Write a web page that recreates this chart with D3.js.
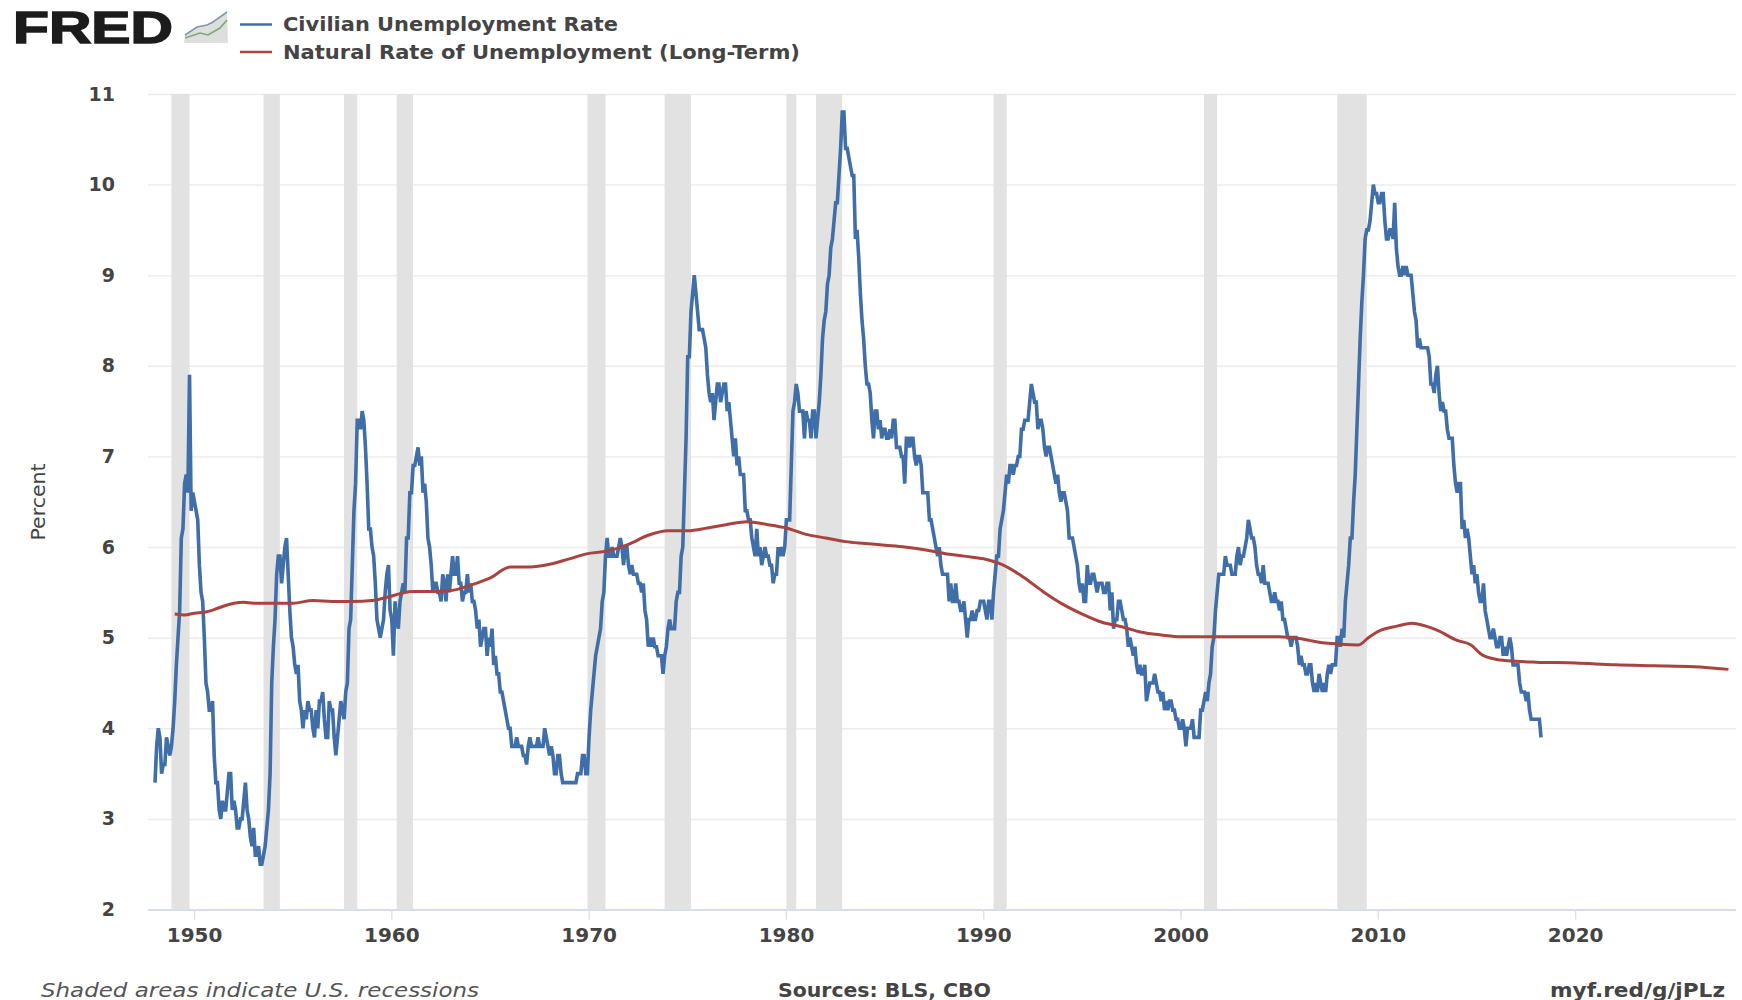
<!DOCTYPE html>
<html>
<head>
<meta charset="utf-8">
<script src="https://cdn.jsdelivr.net/npm/d3@7"></script>
<style>
  html, body { margin: 0; padding: 0; background: #fff; }
  svg { display: block; }
  text { font-family: "DejaVu Sans", sans-serif; fill: #444; }
</style>
</head>
<body>
<svg class="chart"></svg>
<script>
// monthly, one row per year starting 1948
let unrateStart = 1948;
let unrate = [
  3.4,3.8,4.0,3.9,3.5,3.6,3.6,3.9,3.8,3.7,3.8,4.0,
  4.3,4.7,5.0,5.3,6.1,6.2,6.7,6.8,6.6,7.9,6.4,6.6,
  6.5,6.4,6.3,5.8,5.5,5.4,5.0,4.5,4.4,4.2,4.2,4.3,
  3.7,3.4,3.4,3.1,3.0,3.2,3.1,3.1,3.3,3.5,3.5,3.1,
  3.2,3.1,2.9,2.9,3.0,3.0,3.2,3.4,3.1,3.0,2.8,2.7,
  2.9,2.6,2.6,2.7,2.5,2.5,2.6,2.7,2.9,3.1,3.5,4.5,
  4.9,5.2,5.7,5.9,5.9,5.6,5.8,6.0,6.1,5.7,5.3,5.0,
  4.9,4.7,4.6,4.7,4.3,4.2,4.0,4.2,4.1,4.3,4.2,4.2,
  4.0,3.9,4.2,4.0,4.3,4.3,4.4,4.1,3.9,3.9,4.3,4.2,
  4.2,3.9,3.7,3.9,4.1,4.3,4.2,4.1,4.4,4.5,5.1,5.2,
  5.8,6.4,6.7,7.4,7.4,7.3,7.5,7.4,7.1,6.7,6.2,6.2,
  6.0,5.9,5.6,5.2,5.1,5.0,5.1,5.2,5.5,5.7,5.8,5.3,
  5.2,4.8,5.4,5.2,5.1,5.4,5.5,5.6,5.5,6.1,6.1,6.6,
  6.6,6.9,6.9,7.0,7.1,6.9,7.0,6.6,6.7,6.5,6.1,6.0,
  5.8,5.5,5.6,5.6,5.5,5.5,5.4,5.7,5.6,5.4,5.7,5.5,
  5.7,5.9,5.7,5.7,5.9,5.6,5.6,5.4,5.5,5.5,5.7,5.5,
  5.6,5.4,5.4,5.3,5.1,5.2,4.9,5.0,5.1,5.1,4.8,5.0,
  4.9,5.1,4.7,4.8,4.6,4.6,4.4,4.4,4.3,4.2,4.1,4.0,
  4.0,3.8,3.8,3.8,3.9,3.8,3.8,3.8,3.7,3.7,3.6,3.8,
  3.9,3.8,3.8,3.8,3.8,3.9,3.8,3.8,3.8,4.0,3.9,3.8,
  3.7,3.8,3.7,3.5,3.5,3.7,3.7,3.5,3.4,3.4,3.4,3.4,
  3.4,3.4,3.4,3.4,3.4,3.5,3.5,3.5,3.7,3.7,3.5,3.5,
  3.9,4.2,4.4,4.6,4.8,4.9,5.0,5.1,5.4,5.5,5.9,6.1,
  5.9,5.9,6.0,5.9,5.9,5.9,6.0,6.1,6.0,5.8,6.0,6.0,
  5.8,5.7,5.8,5.7,5.7,5.7,5.6,5.6,5.5,5.6,5.3,5.2,
  4.9,5.0,4.9,5.0,4.9,4.9,4.8,4.8,4.8,4.6,4.8,4.9,
  5.1,5.2,5.1,5.1,5.1,5.4,5.5,5.5,5.9,6.0,6.6,7.2,
  8.1,8.1,8.6,8.8,9.0,8.8,8.6,8.4,8.4,8.4,8.3,8.2,
  7.9,7.7,7.6,7.7,7.4,7.6,7.8,7.8,7.6,7.7,7.8,7.8,
  7.5,7.6,7.4,7.2,7.0,7.2,6.9,7.0,6.8,6.8,6.8,6.4,
  6.4,6.3,6.3,6.1,6.0,5.9,6.2,5.9,6.0,5.8,5.9,6.0,
  5.9,5.9,5.8,5.8,5.6,5.7,5.7,6.0,5.9,6.0,5.9,6.0,
  6.3,6.3,6.3,6.9,7.5,7.6,7.8,7.7,7.5,7.5,7.5,7.2,
  7.5,7.4,7.4,7.2,7.5,7.5,7.2,7.4,7.6,7.9,8.3,8.5,
  8.6,8.9,9.0,9.3,9.4,9.6,9.8,9.8,10.1,10.4,10.8,10.8,
  10.4,10.4,10.3,10.2,10.1,10.1,9.4,9.5,9.2,8.8,8.5,8.3,
  8.0,7.8,7.8,7.7,7.4,7.2,7.5,7.5,7.3,7.4,7.2,7.3,
  7.3,7.2,7.2,7.3,7.2,7.4,7.4,7.1,7.1,7.1,7.0,7.0,
  6.7,7.2,7.2,7.1,7.2,7.2,7.0,6.9,7.0,7.0,6.9,6.6,
  6.6,6.6,6.6,6.3,6.3,6.2,6.1,6.0,5.9,6.0,5.8,5.7,
  5.7,5.7,5.7,5.4,5.6,5.4,5.4,5.6,5.4,5.4,5.3,5.3,
  5.4,5.2,5.0,5.2,5.2,5.3,5.2,5.2,5.3,5.3,5.4,5.4,
  5.4,5.3,5.2,5.4,5.4,5.2,5.5,5.7,5.9,5.9,6.2,6.3,
  6.4,6.6,6.8,6.7,6.9,6.9,6.8,6.9,6.9,7.0,7.0,7.3,
  7.3,7.4,7.4,7.4,7.6,7.8,7.7,7.6,7.6,7.3,7.4,7.4,
  7.3,7.1,7.0,7.1,7.1,7.0,6.9,6.8,6.7,6.8,6.6,6.5,
  6.6,6.6,6.5,6.4,6.1,6.1,6.1,6.0,5.9,5.8,5.6,5.5,
  5.6,5.4,5.4,5.8,5.6,5.6,5.7,5.7,5.6,5.5,5.6,5.6,
  5.6,5.5,5.5,5.6,5.6,5.3,5.5,5.1,5.2,5.2,5.4,5.4,
  5.3,5.2,5.2,5.1,4.9,5.0,4.9,4.8,4.9,4.7,4.6,4.7,
  4.6,4.6,4.7,4.3,4.4,4.5,4.5,4.5,4.6,4.5,4.4,4.4,
  4.3,4.4,4.2,4.3,4.2,4.3,4.3,4.2,4.2,4.1,4.1,4.0,
  4.0,4.1,4.0,3.8,4.0,4.0,4.0,4.1,3.9,3.9,3.9,3.9,
  4.2,4.2,4.3,4.4,4.3,4.5,4.6,4.9,5.0,5.3,5.5,5.7,
  5.7,5.7,5.7,5.9,5.8,5.8,5.8,5.7,5.7,5.7,5.9,6.0,
  5.8,5.9,5.9,6.0,6.1,6.3,6.2,6.1,6.1,6.0,5.8,5.7,
  5.7,5.6,5.8,5.6,5.6,5.6,5.5,5.4,5.4,5.5,5.4,5.4,
  5.3,5.4,5.2,5.2,5.1,5.0,5.0,4.9,5.0,5.0,5.0,4.9,
  4.7,4.8,4.7,4.7,4.6,4.6,4.7,4.7,4.5,4.4,4.5,4.4,
  4.6,4.5,4.4,4.5,4.4,4.6,4.7,4.6,4.7,4.7,4.7,5.0,
  5.0,4.9,5.1,5.0,5.4,5.6,5.8,6.1,6.1,6.5,6.8,7.3,
  7.8,8.3,8.7,9.0,9.4,9.5,9.5,9.6,9.8,10.0,9.9,9.9,
  9.8,9.8,9.9,9.9,9.6,9.4,9.4,9.5,9.5,9.4,9.8,9.3,
  9.1,9.0,9.0,9.1,9.0,9.1,9.0,9.0,9.0,8.8,8.6,8.5,
  8.2,8.3,8.2,8.2,8.2,8.2,8.2,8.1,7.8,7.8,7.7,7.9,
  8.0,7.7,7.5,7.6,7.5,7.5,7.3,7.2,7.2,7.2,6.9,6.7,
  6.6,6.7,6.7,6.2,6.3,6.1,6.2,6.1,5.9,5.7,5.8,5.6,
  5.7,5.5,5.4,5.4,5.6,5.3,5.2,5.1,5.0,5.0,5.1,5.0,
  4.9,4.9,5.0,5.0,4.8,4.9,4.8,4.9,5.0,4.9,4.7,4.7,
  4.7,4.7,4.5,4.4,4.4,4.4,4.3,4.4,4.2,4.1,4.1,4.1,
  4.1,4.1,4.1,3.9
];

// natural rate
let nrouYears = [1949,1949.5,1950,1950.5,1951,1951.5,1952,1952.5,1953,1954,1955,1956,1957,1958,1959,1960,1961,1962,1963,1964,1965,1966,1967,1968,1969,1970,1971,1972,1973,1974,1975,1976,1977,1978,1979,1980,1981,1982,1983,1984,1985,1986,1987,1988,1989,1990,1991,1992,1993,1994,1995,1996,1997,1998,1999,2000,2001,2002,2003,2004,2005,2006,2007,2008,2009,2009.5,2010,2011,2011.7,2012,2013,2014,2014.7,2015.2,2016,2017,2018,2020,2022,2024,2026,2027.75];
let nrouValues = [5.26,5.25,5.27,5.28,5.31,5.35,5.38,5.39,5.38,5.38,5.38,5.41,5.40,5.40,5.41,5.46,5.51,5.51,5.52,5.58,5.66,5.78,5.78,5.81,5.87,5.93,5.96,6.03,6.13,6.18,6.18,6.21,6.25,6.28,6.25,6.21,6.14,6.10,6.06,6.04,6.02,6.00,5.97,5.93,5.90,5.87,5.80,5.67,5.51,5.37,5.26,5.17,5.12,5.06,5.03,5.01,5.01,5.01,5.01,5.01,5.01,4.99,4.95,4.93,4.92,5.00,5.07,5.13,5.16,5.15,5.08,4.97,4.92,4.82,4.76,4.74,4.73,4.72,4.70,4.69,4.68,4.65];

let recessionStarts = [1948.83,1953.5,1957.58,1960.25,1969.92,1973.83,1980,1981.5,1990.5,2001.17,2007.92];
let recessionEnds = [1949.75,1954.33,1958.25,1961.08,1970.83,1975.17,1980.5,1982.83,1991.17,2001.83,2009.42];

let xTickYears = [1950,1960,1970,1980,1990,2000,2010,2020];
let yTicks = [2,3,4,5,6,7,8,9,10,11];

let seriesNames = ["Civilian Unemployment Rate", "Natural Rate of Unemployment (Long-Term)"];
let seriesColors = ["#3f6ea8", "#a8433f"];

let width = 1742, height = 1000;
let svg = d3.select(".chart").attr("width", width).attr("height", height);

let x = d3.scaleLinear().domain([1948, 2028]).range([155, 1733.4]);
let y = d3.scaleLinear().domain([2, 11]).range([909.5, 94]);

// gridlines
let yAxis = d3.axisLeft(y).tickValues(yTicks).tickSize(0).tickPadding(33);
let gy = svg.append("g").attr("transform", "translate(148,0)").call(yAxis);
gy.select(".domain").remove();
gy.selectAll(".tick line")
    .attr("x2", 1588)
    .attr("stroke", d => d == 2 ? "#d8dce8" : "#ececec")
    .attr("stroke-width", d => d == 2 ? 2 : 1.5);
gy.selectAll(".tick text")
    .attr("dy", "0.32em")
    .style("font-family", "\"DejaVu Sans\"")
    .style("font-size", "19px")
    .style("font-weight", "600")
    .style("fill", "#444");

// recession bands
svg.append("g").selectAll("rect")
    .data(recessionStarts)
    .enter()
    .append("rect")
    .attr("x", d => x(d))
    .attr("width", (d, i) => x(recessionEnds[i]) - x(d))
    .attr("y", y(11))
    .attr("height", y(2) - y(11))
    .attr("fill", "#e2e2e2");

let xAxis = d3.axisBottom(x).tickValues(xTickYears).tickFormat(d3.format("d")).tickSize(10).tickPadding(8);
let gx = svg.append("g").attr("transform", "translate(-0.4," + y(2) + ")").call(xAxis);
gx.select(".domain").remove();
gx.selectAll(".tick line").attr("stroke", "#dfe1ea").attr("stroke-width", 1.5);
gx.selectAll(".tick text")
    .style("font-family", "\"DejaVu Sans\"")
    .style("font-size", "20px")
    .style("font-weight", "600")
    .style("fill", "#444");

let line = d3.line().x(d => x(d[0])).y(d => y(d[1]));

let unratePoints = unrate.map((v, i) => [unrateStart + i / 12, v]);
svg.append("path")
    .datum(unratePoints)
    .attr("d", line)
    .attr("fill", "none")
    .attr("stroke", seriesColors[0])
    .attr("stroke-width", 3.6)
    .attr("stroke-linejoin", "miter");

let nrouPoints = nrouYears.map((d, i) => [d, nrouValues[i]]);
svg.append("path")
    .datum(nrouPoints)
    .attr("d", line.curve(d3.curveMonotoneX))
    .attr("fill", "none")
    .attr("stroke", seriesColors[1])
    .attr("stroke-width", 3);

// logo
svg.append("text")
    .attr("x", 13).attr("y", 42.5)
    .attr("textLength", 160)
    .attr("lengthAdjust", "spacingAndGlyphs")
    .style("font-family", "\"Liberation Sans\"")
    .style("font-weight", "700")
    .style("font-size", "45px")
    .style("fill", "#1c1c1c")
    .style("stroke", "#1c1c1c")
    .style("stroke-width", 1.5)
    .text("FRED");

let logoBlue = [[185,35],[197,27],[207,25],[213,22],[227,12]];
let logoGreen = [[185,38],[200,33],[208,35],[220,28],[227,20]];
svg.append("path")
    .attr("d", d3.line()(logoBlue.concat([[228,43],[184,43]])) + "Z")
    .attr("fill", "#dcdfdc");
svg.append("g").selectAll("path")
    .data([logoBlue, logoGreen])
    .enter()
    .append("path")
    .attr("d", d3.line())
    .attr("fill", "none")
    .attr("stroke", (d, i) => i ? "#7da87a" : "#8297b0")
    .attr("stroke-width", 1.6);

// legend
let legend = svg.append("g").selectAll("g")
    .data(seriesNames)
    .enter()
    .append("g")
    .attr("transform", (d, i) => "translate(240," + (24.5 + i * 27.5) + ")");
legend.append("line")
    .attr("x2", 32)
    .attr("stroke", (d, i) => seriesColors[i])
    .attr("stroke-width", 2.5);
legend.append("text")
    .attr("x", 43)
    .attr("dy", "0.35em")
    .attr("textLength", (d, i) => i ? 517 : 335)
    .attr("lengthAdjust", "spacingAndGlyphs")
    .style("font-size", "19px")
    .style("font-weight", "600")
    .text(d => d);

svg.append("text")
    .attr("transform", "translate(45,502) rotate(-90)")
    .attr("text-anchor", "middle")
    .attr("textLength", 77)
    .attr("lengthAdjust", "spacingAndGlyphs")
    .style("font-size", "19px")
    .text("Percent");

// footer
svg.append("text").attr("x", 41).attr("y", 997)
    .attr("textLength", 438).attr("lengthAdjust", "spacingAndGlyphs")
    .style("font-style", "italic").style("font-size", "19px").style("fill", "#555")
    .text("Shaded areas indicate U.S. recessions");
svg.append("text").attr("x", 778).attr("y", 997)
    .attr("textLength", 213).attr("lengthAdjust", "spacingAndGlyphs")
    .style("font-size", "19px").style("font-weight", "600")
    .text("Sources: BLS, CBO");
svg.append("text").attr("x", 1550).attr("y", 997)
    .attr("textLength", 175).attr("lengthAdjust", "spacingAndGlyphs")
    .style("font-size", "19px").style("font-weight", "600")
    .text("myf.red/g/jPLz");
</script>
</body>
</html>
